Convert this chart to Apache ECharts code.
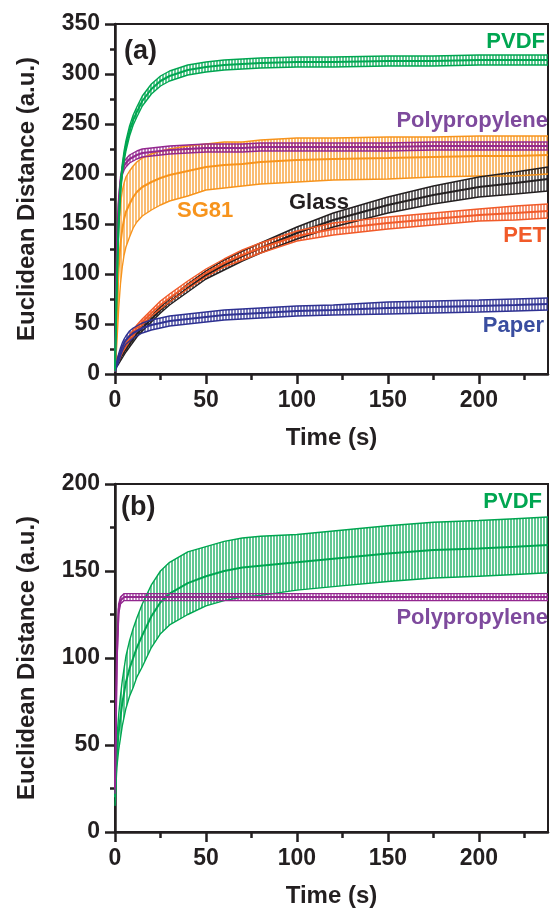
<!DOCTYPE html>
<html>
<head>
<meta charset="utf-8">
<script src="https://cdn.jsdelivr.net/npm/echarts@6/dist/echarts.min.js"></script>
<style>
html,body{margin:0;padding:0;background:#fff;}
#main{width:550px;height:909px;}
</style>
</head>
<body>
<div id="main"></div>
<script>
// time points (s), shared by every curve
var time = [0,1,2,3,4,5,6,8,10,12,15,20,25,30,40,50,60,70,80,100,120,150,175,200,220,238];

// panel (a): mean and error (sd)
var pvdfA   = [5,90,150,185,205,218,228,243,254,262,273,285,293,298,304,307,309,310,311,312,312,313,313,314,314,314];
var pvdfAsd = [2,6,6,6,5,5,5,5,5,5,5,5,5,5,5,5,5,5,5,5,5,5,5,5,5,5];
var ppA     = [5,120,170,192,203,208,211,215,217,219,221,222,223,224,225,226,226,226,227,227,227,227,228,228,228,228];
var ppAsd   = [2,8,6,5,4,4,4,4,4,4,4,4,4,4,4,4,4,4,4,4,4,4,4,4,4,4];
var sg81    = [5,60,105,130,145,155,162,170,177,182,187,192,196,199,203,207,209,210,212,214,215,216,217,218,218,219];
var sg81sd  = [3,30,40,40,38,36,35,33,31,30,29,28,27,26,25,23,23,22,22,22,21,21,20,20,20,19];
var glass   = [8,10,13,16,19,22,25,30,35,40,46,55,64,72,86,99,109,118,126,141,154,169,179,187,191,195];
var glassSd = [3,3,3,3,3,3,3,3,3,3,3,3,3,3,4,4,5,5,5,6,7,8,9,10,11,12];
var pet     = [8,12,16,20,24,27,30,36,41,46,52,61,69,76,89,101,111,119,126,138,145,151,155,159,161,163];
var petSd   = [3,3,3,3,3,3,3,3,3,3,3,3,4,4,4,4,4,5,5,5,6,6,6,6,7,7];
var paper   = [5,10,16,22,27,31,34,38,41,43,46,49,51,53,55,57,59,60,61,63,64,66,67,68,69,70];
var paperSd = [3,3,4,4,4,4,4,5,5,5,5,5,5,5,5,5,5,5,5,5,5,6,6,6,6,6];

// panel (b)
var pvdfB   = [20,45,57,66,74,80,86,94,100,106,113,124,132,137,143,147,150,152,153,155,157,160,162,163,164,165];
var pvdfBsd = [5,8,10,12,13,14,15,16,17,17,18,18,18,18,18,17,17,17,17,16,16,16,16,16,16,16];
var ppB     = [25,100,128,133,134,135,135,135,135,135,135,135,135,135,135,135,135,135,135,135,135,135,135,135,135,135];
var ppBsd   = [3,4,3,2,2,2,2,2,2,2,2,2,2,2,2,2,2,2,2,2,2,2,2,2,2,2];

var xTicks = [0,50,100,150,200];
var xMinor = [25,75,125,175,225];

var C = {
  pvdf:'#00a651', pp:'#93278f', sg81:'#f7941d', glass:'#231f20', pet:'#f15a29', paper:'#2e3192'
};
var ink = '#231f20';
var font = 'Liberation Sans, Arial, sans-serif';

function hexA(hex, a){
  var n = parseInt(hex.slice(1), 16);
  return 'rgba(' + (n>>16) + ',' + ((n>>8)&255) + ',' + (n&255) + ',' + a + ')';
}
function stripes(hex){
  var c = document.createElement('canvas');
  c.width = 3; c.height = 4;
  var g = c.getContext('2d');
  g.fillStyle = hexA(hex, 0.62);
  g.fillRect(0, 0, 2, 4);
  return {image: c, repeat: 'repeat'};
}

// band (custom), lower edge, upper edge, mean line
function curve(name, mean, sd, color, gi){
  var pts = [], lo = [], hi = [], mid = [];
  for (var i = 0; i < time.length; i++){
    pts.push([time[i], mean[i] - sd[i], mean[i] + sd[i]]);
    lo.push([time[i], mean[i] - sd[i]]);
    hi.push([time[i], mean[i] + sd[i]]);
    mid.push([time[i], mean[i]]);
  }
  var fill = stripes(color);
  var base = {
    type: 'line', xAxisIndex: gi * 2, yAxisIndex: gi, symbol: 'none', silent: true
  };
  return [
    {
      type: 'custom', name: name + '-band', xAxisIndex: gi * 2, yAxisIndex: gi, silent: true, clip: true,
      encode: {x: 0, y: [1, 2]},
      data: pts,
      renderItem: function(params, api){
        var k = params.dataIndex;
        if (k >= pts.length - 1) return null;
        var p = pts[k], q = pts[k + 1];
        return {
          type: 'polygon',
          shape: {points: [api.coord([p[0], p[2]]), api.coord([q[0], q[2]]), api.coord([q[0], q[1]]), api.coord([p[0], p[1]])]},
          style: {fill: fill}
        };
      }
    },
    Object.assign({}, base, {name: name + '-lo', data: lo, lineStyle: {color: color, width: 1.4}}),
    Object.assign({}, base, {name: name + '-hi', data: hi, lineStyle: {color: color, width: 1.4}}),
    Object.assign({}, base, {name: name, data: mid, lineStyle: {color: color, width: 2}})
  ];
}

function xAxes(gi){
  return [{
    gridIndex: gi, type: 'value', min: 0, max: 238, position: 'bottom',
    name: 'Time (s)', nameLocation: 'middle', nameGap: 52,
    nameTextStyle: {color: ink, fontSize: 24, fontWeight: 'bold', fontFamily: font},
    axisLine: {lineStyle: {color: ink, width: 2.5}},
    axisTick: {customValues: xTicks, length: 10, lineStyle: {color: ink, width: 2.5}},
    axisLabel: {customValues: xTicks, margin: 15, color: ink, fontSize: 23, fontWeight: 'bold', fontFamily: font},
    splitLine: {show: false}
  }, {
    gridIndex: gi, type: 'value', min: 0, max: 238, position: 'bottom',
    axisLine: {show: false},
    axisTick: {customValues: xMinor, length: 6, lineStyle: {color: ink, width: 2.5}},
    axisLabel: {show: false},
    splitLine: {show: false}
  }];
}

function yAxis(gi, max){
  return {
    gridIndex: gi, type: 'value', min: 0, max: max, interval: 50,
    name: 'Euclidean Distance (a.u.)', nameLocation: 'middle', nameGap: 76,
    nameTextStyle: {color: ink, fontSize: 24, fontWeight: 'bold', fontFamily: font},
    axisLine: {show: true, lineStyle: {color: ink, width: 2.5}},
    axisTick: {show: true, length: 10, lineStyle: {color: ink, width: 2.5}},
    minorTick: {show: true, splitNumber: 2, length: 5, lineStyle: {color: ink, width: 2.5}},
    axisLabel: {margin: 15, color: ink, fontSize: 23, fontWeight: 'bold', fontFamily: font},
    splitLine: {show: false}
  };
}

function tag(text, color, x, y, align){
  return {
    type: 'text', x: x, y: y, z: 100,
    style: {text: text, fill: color, font: 'bold 22px ' + font, textAlign: align || 'left', textVerticalAlign: 'middle'}
  };
}

var series = [].concat(
  curve('SG81', sg81, sg81sd, C.sg81, 0),
  curve('Glass', glass, glassSd, C.glass, 0),
  curve('PET', pet, petSd, C.pet, 0),
  curve('Paper', paper, paperSd, C.paper, 0),
  curve('Polypropylene', ppA, ppAsd, C.pp, 0),
  curve('PVDF', pvdfA, pvdfAsd, C.pvdf, 0),
  curve('PVDF', pvdfB, pvdfBsd, C.pvdf, 1),
  curve('Polypropylene', ppB, ppBsd, C.pp, 1)
);

var chart = echarts.init(document.getElementById('main'), null, {renderer: 'canvas'});
chart.setOption({
  animation: false,
  backgroundColor: '#fff',
  grid: [
    {left: 115, top: 24, width: 433, height: 350, show: true, borderColor: ink, borderWidth: 2},
    {left: 115, top: 484, width: 433, height: 349, show: true, borderColor: ink, borderWidth: 2}
  ],
  xAxis: xAxes(0).concat(xAxes(1)),
  yAxis: [yAxis(0, 350), yAxis(1, 200)],
  series: series,
  graphic: [
    {type: 'text', x: 124, y: 52, z: 100, style: {text: '(a)', fill: ink, font: 'bold 27px ' + font, textVerticalAlign: 'middle'}},
    {type: 'text', x: 121, y: 508, z: 100, style: {text: '(b)', fill: ink, font: 'bold 27px ' + font, textVerticalAlign: 'middle'}},
    tag('PVDF', C.pvdf, 545, 42, 'right'),
    tag('Polypropylene', '#7e4a9d', 548, 121, 'right'),
    tag('SG81', C.sg81, 177, 211),
    tag('Glass', ink, 289, 203),
    tag('PET', C.pet, 546, 236, 'right'),
    tag('Paper', '#3a4ea0', 544, 326, 'right'),
    tag('PVDF', C.pvdf, 542, 502, 'right'),
    tag('Polypropylene', '#7e4a9d', 548, 618, 'right')
  ]
});
</script>
</body>
</html>
